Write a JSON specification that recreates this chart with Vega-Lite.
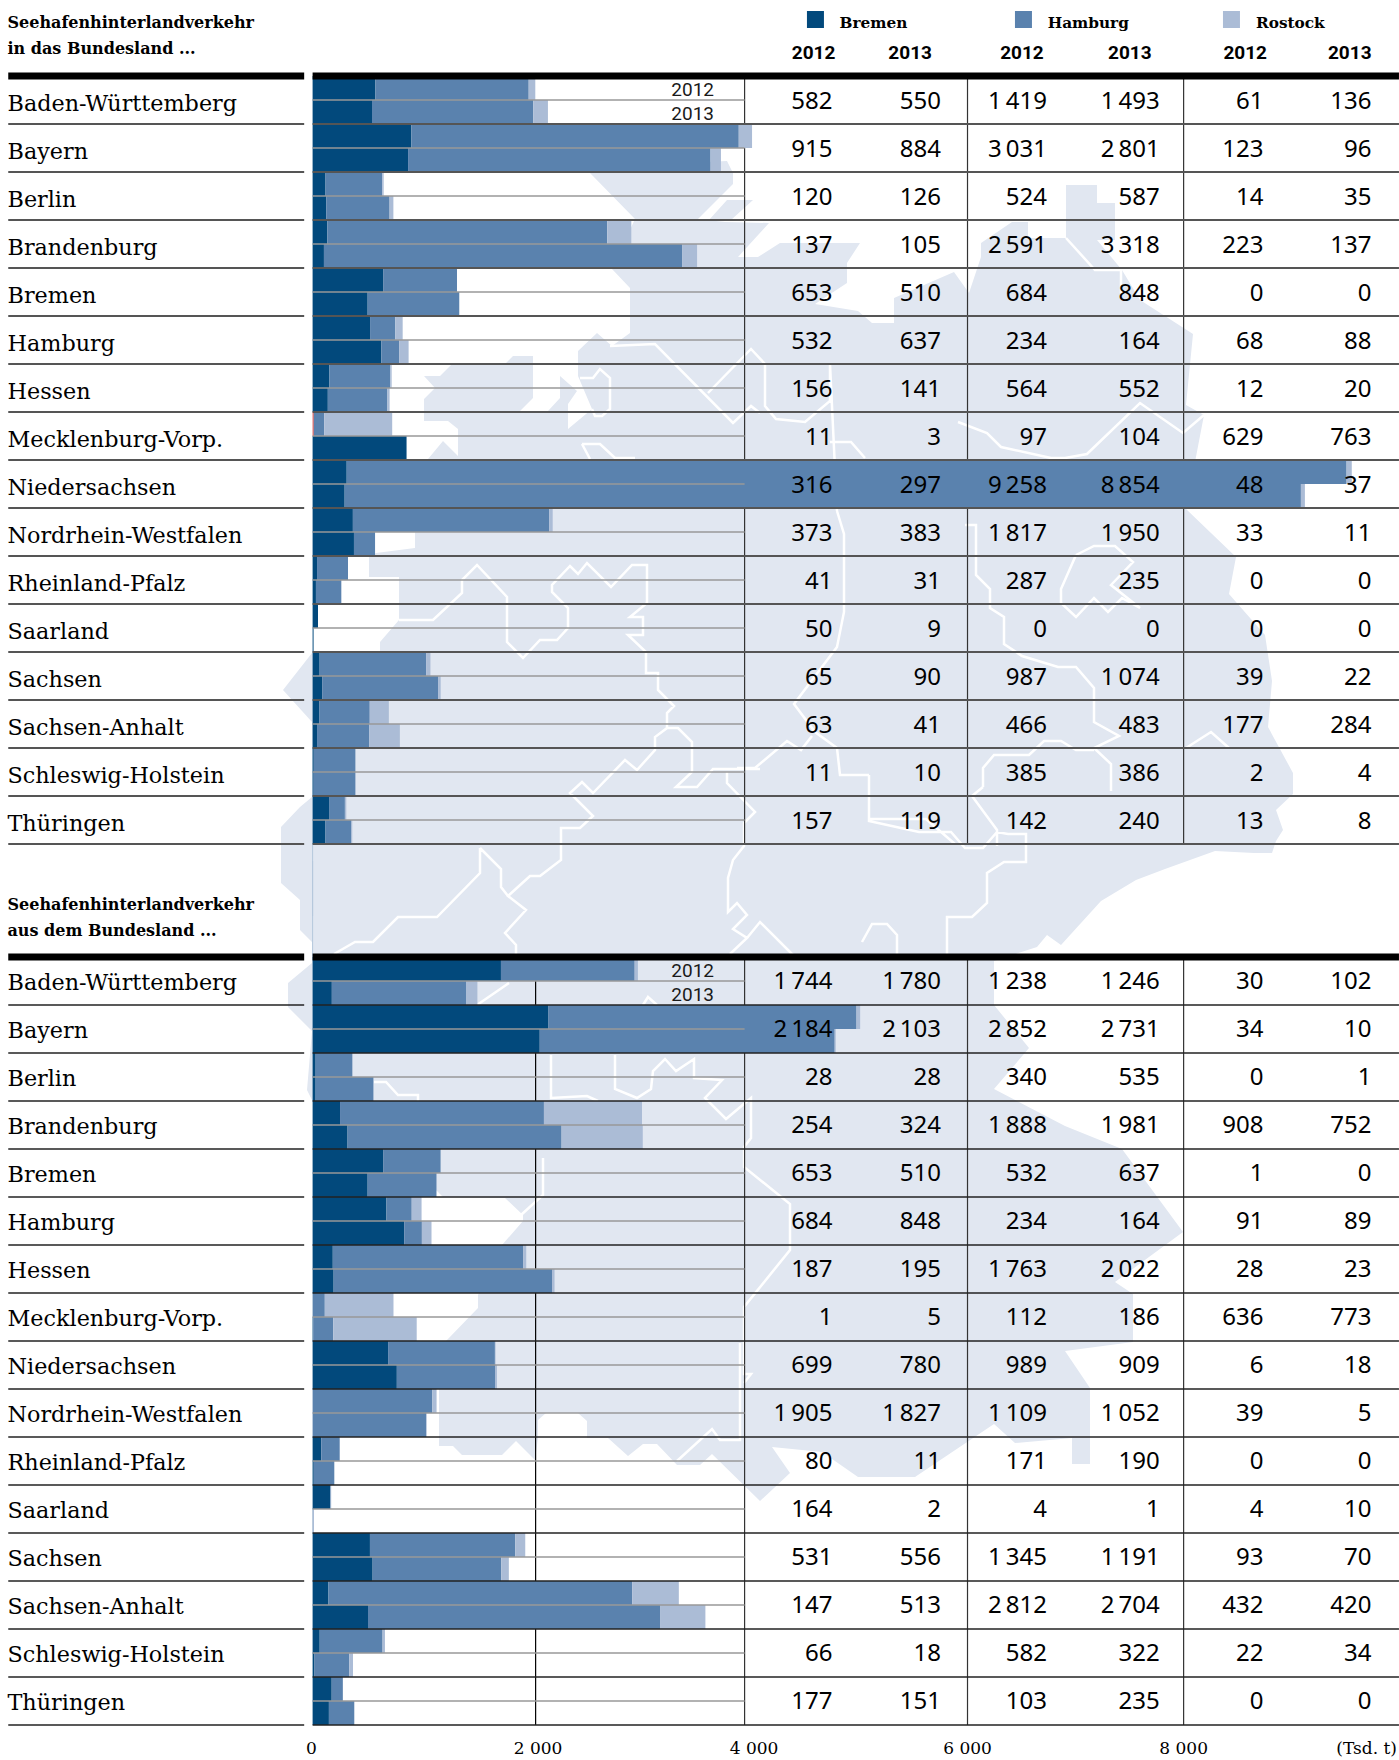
{"$schema":"https://vega.github.io/schema/vega-lite/v6.json","width":1399,"height":1760,"autosize":{"type":"none"},"padding":0,"background":"white",
"config":{"view":{"stroke":null},"axis":{"disable":true},"legend":{"disable":true},"locale":{"number":{"decimal":",","thousands":"\u2009","grouping":[3],"currency":["","€"]}},
"style":{"num":{"font":"Noto Sans","fontSize":24,"align":"right","baseline":"middle","fill":"#1a1a1a","dy":1.5},"num2":{"font":"Noto Sans","fontSize":24,"align":"right","baseline":"middle","fill":"#1a1a1a","dy":0.5},"lab":{"font":"DejaVu Serif","fontSize":22.3,"align":"left","baseline":"alphabetic","fill":"#1a1a1a"},"hd":{"font":"DejaVu Serif","fontSize":16,"fontWeight":"bold","align":"left","baseline":"middle","fill":"#1a1a1a"},"lg":{"font":"DejaVu Serif","fontSize":15.3,"fontWeight":"bold","align":"left","baseline":"middle","fill":"#1a1a1a"},"yr":{"font":"Roboto","fontSize":19,"align":"right","baseline":"middle","fill":"#1a1a1a","fontWeight":"bold"},"ax":{"font":"DejaVu Serif","fontSize":17,"align":"center","baseline":"middle","fill":"#1a1a1a"}}},
"data":{"values":[{"o":1}]},
"datasets":{
"st":[{"s":"Baden-Württemberg"},{"s":"Bayern"},{"s":"Berlin"},{"s":"Brandenburg"},{"s":"Bremen"},{"s":"Hamburg"},{"s":"Hessen"},{"s":"Mecklenburg-Vorp."},{"s":"Niedersachsen"},{"s":"Nordrhein-Westfalen"},{"s":"Rheinland-Pfalz"},{"s":"Saarland"},{"s":"Sachsen"},{"s":"Sachsen-Anhalt"},{"s":"Schleswig-Holstein"},{"s":"Thüringen"}],
"t":[
{"d":"in","s":"Baden-Württemberg","b12":582,"b13":550,"h12":1419,"h13":1493,"r12":61,"r13":136},
{"d":"in","s":"Bayern","b12":915,"b13":884,"h12":3031,"h13":2801,"r12":123,"r13":96},
{"d":"in","s":"Berlin","b12":120,"b13":126,"h12":524,"h13":587,"r12":14,"r13":35},
{"d":"in","s":"Brandenburg","b12":137,"b13":105,"h12":2591,"h13":3318,"r12":223,"r13":137},
{"d":"in","s":"Bremen","b12":653,"b13":510,"h12":684,"h13":848,"r12":0,"r13":0},
{"d":"in","s":"Hamburg","b12":532,"b13":637,"h12":234,"h13":164,"r12":68,"r13":88},
{"d":"in","s":"Hessen","b12":156,"b13":141,"h12":564,"h13":552,"r12":12,"r13":20},
{"d":"in","s":"Mecklenburg-Vorp.","b12":11,"b13":3,"h12":97,"h13":104,"r12":629,"r13":763},
{"d":"in","s":"Niedersachsen","b12":316,"b13":297,"h12":9258,"h13":8854,"r12":48,"r13":37},
{"d":"in","s":"Nordrhein-Westfalen","b12":373,"b13":383,"h12":1817,"h13":1950,"r12":33,"r13":11},
{"d":"in","s":"Rheinland-Pfalz","b12":41,"b13":31,"h12":287,"h13":235,"r12":0,"r13":0},
{"d":"in","s":"Saarland","b12":50,"b13":9,"h12":0,"h13":0,"r12":0,"r13":0},
{"d":"in","s":"Sachsen","b12":65,"b13":90,"h12":987,"h13":1074,"r12":39,"r13":22},
{"d":"in","s":"Sachsen-Anhalt","b12":63,"b13":41,"h12":466,"h13":483,"r12":177,"r13":284},
{"d":"in","s":"Schleswig-Holstein","b12":11,"b13":10,"h12":385,"h13":386,"r12":2,"r13":4},
{"d":"in","s":"Thüringen","b12":157,"b13":119,"h12":142,"h13":240,"r12":13,"r13":8},
{"d":"out","s":"Baden-Württemberg","b12":1744,"b13":1780,"h12":1238,"h13":1246,"r12":30,"r13":102},
{"d":"out","s":"Bayern","b12":2184,"b13":2103,"h12":2852,"h13":2731,"r12":34,"r13":10},
{"d":"out","s":"Berlin","b12":28,"b13":28,"h12":340,"h13":535,"r12":0,"r13":1},
{"d":"out","s":"Brandenburg","b12":254,"b13":324,"h12":1888,"h13":1981,"r12":908,"r13":752},
{"d":"out","s":"Bremen","b12":653,"b13":510,"h12":532,"h13":637,"r12":1,"r13":0},
{"d":"out","s":"Hamburg","b12":684,"b13":848,"h12":234,"h13":164,"r12":91,"r13":89},
{"d":"out","s":"Hessen","b12":187,"b13":195,"h12":1763,"h13":2022,"r12":28,"r13":23},
{"d":"out","s":"Mecklenburg-Vorp.","b12":1,"b13":5,"h12":112,"h13":186,"r12":636,"r13":773},
{"d":"out","s":"Niedersachsen","b12":699,"b13":780,"h12":989,"h13":909,"r12":6,"r13":18},
{"d":"out","s":"Nordrhein-Westfalen","b12":1905,"b13":1827,"h12":1109,"h13":1052,"r12":39,"r13":5},
{"d":"out","s":"Rheinland-Pfalz","b12":80,"b13":11,"h12":171,"h13":190,"r12":0,"r13":0},
{"d":"out","s":"Saarland","b12":164,"b13":2,"h12":4,"h13":1,"r12":4,"r13":10},
{"d":"out","s":"Sachsen","b12":531,"b13":556,"h12":1345,"h13":1191,"r12":93,"r13":70},
{"d":"out","s":"Sachsen-Anhalt","b12":147,"b13":513,"h12":2812,"h13":2704,"r12":432,"r13":420},
{"d":"out","s":"Schleswig-Holstein","b12":66,"b13":18,"h12":582,"h13":322,"r12":22,"r13":34},
{"d":"out","s":"Thüringen","b12":177,"b13":151,"h12":103,"h13":235,"r12":0,"r13":0}],
"bars":[
{"d":"in","s":"Baden-Württemberg","y":2012,"B":582,"H":1419,"R":61},{"d":"in","s":"Baden-Württemberg","y":2013,"B":550,"H":1493,"R":136},
{"d":"in","s":"Bayern","y":2012,"B":915,"H":3031,"R":123},{"d":"in","s":"Bayern","y":2013,"B":884,"H":2801,"R":96},
{"d":"in","s":"Berlin","y":2012,"B":120,"H":524,"R":14},{"d":"in","s":"Berlin","y":2013,"B":126,"H":587,"R":35},
{"d":"in","s":"Brandenburg","y":2012,"B":137,"H":2591,"R":223},{"d":"in","s":"Brandenburg","y":2013,"B":105,"H":3318,"R":137},
{"d":"in","s":"Bremen","y":2012,"B":653,"H":684,"R":0},{"d":"in","s":"Bremen","y":2013,"B":510,"H":848,"R":0},
{"d":"in","s":"Hamburg","y":2012,"B":532,"H":234,"R":68},{"d":"in","s":"Hamburg","y":2013,"B":637,"H":164,"R":88},
{"d":"in","s":"Hessen","y":2012,"B":156,"H":564,"R":12},{"d":"in","s":"Hessen","y":2013,"B":141,"H":552,"R":20},
{"d":"in","s":"Mecklenburg-Vorp.","y":2012,"A":11,"B":0,"H":97,"R":629},{"d":"in","s":"Mecklenburg-Vorp.","y":2013,"B":870,"H":0,"R":0},
{"d":"in","s":"Niedersachsen","y":2012,"B":316,"H":9258,"R":48},{"d":"in","s":"Niedersachsen","y":2013,"B":297,"H":8854,"R":37},
{"d":"in","s":"Nordrhein-Westfalen","y":2012,"B":373,"H":1817,"R":33},{"d":"in","s":"Nordrhein-Westfalen","y":2013,"B":383,"H":195,"R":1},
{"d":"in","s":"Rheinland-Pfalz","y":2012,"B":41,"H":287,"R":0},{"d":"in","s":"Rheinland-Pfalz","y":2013,"B":31,"H":235,"R":0},
{"d":"in","s":"Saarland","y":2012,"B":50,"H":0,"R":0},{"d":"in","s":"Saarland","y":2013,"B":9,"H":0,"R":0},
{"d":"in","s":"Sachsen","y":2012,"B":65,"H":987,"R":39},{"d":"in","s":"Sachsen","y":2013,"B":90,"H":1074,"R":22},
{"d":"in","s":"Sachsen-Anhalt","y":2012,"B":63,"H":466,"R":177},{"d":"in","s":"Sachsen-Anhalt","y":2013,"B":41,"H":483,"R":284},
{"d":"in","s":"Schleswig-Holstein","y":2012,"B":11,"H":385,"R":2},{"d":"in","s":"Schleswig-Holstein","y":2013,"B":10,"H":386,"R":4},
{"d":"in","s":"Thüringen","y":2012,"B":157,"H":142,"R":13},{"d":"in","s":"Thüringen","y":2013,"B":119,"H":240,"R":8},
{"d":"out","s":"Baden-Württemberg","y":2012,"B":1744,"H":1238,"R":30},{"d":"out","s":"Baden-Württemberg","y":2013,"B":178,"H":1246,"R":102},
{"d":"out","s":"Bayern","y":2012,"B":2184,"H":2852,"R":34},{"d":"out","s":"Bayern","y":2013,"B":2103,"H":2731,"R":10},
{"d":"out","s":"Berlin","y":2012,"B":28,"H":340,"R":0},{"d":"out","s":"Berlin","y":2013,"B":28,"H":535,"R":1},
{"d":"out","s":"Brandenburg","y":2012,"B":254,"H":1888,"R":908},{"d":"out","s":"Brandenburg","y":2013,"B":324,"H":1981,"R":752},
{"d":"out","s":"Bremen","y":2012,"B":653,"H":532,"R":1},{"d":"out","s":"Bremen","y":2013,"B":510,"H":637,"R":0},
{"d":"out","s":"Hamburg","y":2012,"B":684,"H":234,"R":91},{"d":"out","s":"Hamburg","y":2013,"B":848,"H":164,"R":89},
{"d":"out","s":"Hessen","y":2012,"B":187,"H":1763,"R":28},{"d":"out","s":"Hessen","y":2013,"B":195,"H":2022,"R":23},
{"d":"out","s":"Mecklenburg-Vorp.","y":2012,"B":1,"H":112,"R":636},{"d":"out","s":"Mecklenburg-Vorp.","y":2013,"B":5,"H":186,"R":773},
{"d":"out","s":"Niedersachsen","y":2012,"B":699,"H":989,"R":6},{"d":"out","s":"Niedersachsen","y":2013,"B":780,"H":909,"R":18},
{"d":"out","s":"Nordrhein-Westfalen","y":2012,"B":0,"H":1109,"R":39},{"d":"out","s":"Nordrhein-Westfalen","y":2013,"B":0,"H":1052,"R":5},
{"d":"out","s":"Rheinland-Pfalz","y":2012,"B":80,"H":171,"R":0},{"d":"out","s":"Rheinland-Pfalz","y":2013,"B":11,"H":190,"R":0},
{"d":"out","s":"Saarland","y":2012,"B":164,"H":4,"R":4},{"d":"out","s":"Saarland","y":2013,"B":2,"H":1,"R":10},
{"d":"out","s":"Sachsen","y":2012,"B":531,"H":1345,"R":93},{"d":"out","s":"Sachsen","y":2013,"B":556,"H":1191,"R":70},
{"d":"out","s":"Sachsen-Anhalt","y":2012,"B":147,"H":2812,"R":432},{"d":"out","s":"Sachsen-Anhalt","y":2013,"B":513,"H":2704,"R":420},
{"d":"out","s":"Schleswig-Holstein","y":2012,"B":66,"H":582,"R":22},{"d":"out","s":"Schleswig-Holstein","y":2013,"B":18,"H":322,"R":34},
{"d":"out","s":"Thüringen","y":2012,"B":177,"H":103,"R":0},{"d":"out","s":"Thüringen","y":2013,"B":151,"H":235,"R":0}],
"map":[{"type":"Feature","geometry":{"type":"MultiPolygon","coordinates":[[[[727,161],[733,173],[733,184],[698,219],[725,222],[769,223],[738,257],[758,257],[780,243],[860,243],[847,263],[847,283],[815,304],[858,311],[872,323],[894,323],[894,298],[954,272],[969,293],[981,257],[981,243],[1012,222],[1028,222],[1028,238],[1066,238],[1066,185],[1097,185],[1097,203],[1115,203],[1115,240],[1097,240],[1122,270],[1140,300],[1193,334],[1186,405],[1204,415],[1186,509],[1236,557],[1229,594],[1265,635],[1272,681],[1268,727],[1293,773],[1293,794],[1276,810],[1283,830],[1276,841],[1272,853],[1254,853],[1215,851],[1165,869],[1136,880],[1101,901],[1061,945],[1047,935],[1037,947],[994,961],[994,1005],[1029,1048],[994,1089],[1065,1126],[1122,1149],[1183,1232],[1115,1282],[1133,1294],[1133,1342],[1065,1351],[1090,1388],[1090,1464],[1072,1464],[1072,1438],[1015,1443],[994,1424],[915,1477],[858,1477],[822,1452],[772,1447],[790,1473],[760,1501],[712,1454],[700,1465],[677,1465],[657,1444],[643,1444],[628,1456],[608,1438],[587,1438],[587,1421],[578,1413],[546,1413],[538,1420],[538,1438],[535,1460],[516,1441],[502,1455],[462,1455],[453,1446],[439,1446],[439,1345],[446,1341],[478,1308],[478,1295],[502,1245],[523,1221],[523,1215],[505,1198],[443,1197],[437,1191],[312,1100],[307,1090],[312,1031],[288,1007],[288,983],[312,963],[312,942],[300,930],[300,900],[281,883],[281,827],[300,807],[312,797],[312,722],[283,690],[312,653],[380,652],[380,642],[399,620],[399,577],[369,577],[369,557],[376,553],[415,548],[415,533],[428,459],[443,441],[458,456],[458,429],[448,421],[424,421],[424,399],[435,388],[424,376],[440,376],[452,364],[505,364],[513,356],[533,356],[533,398],[520,411],[548,411],[560,398],[560,376],[577,391],[568,404],[568,429],[592,409],[578,376],[578,351],[597,333],[612,346],[630,333],[630,288],[612,269],[635,219],[590,173],[640,165],[727,161]]],[[[727,200],[753,200],[731,220],[709,220],[727,200]]]]}}],
"borders":[{"type":"Feature","geometry":{"type":"MultiLineString","coordinates":[
[[399,620],[433,620],[462,593],[462,580],[477,565],[507,597],[507,642],[523,658],[540,640],[557,640],[568,628],[568,608],[552,592],[552,585],[570,566],[578,574],[587,563],[611,587],[632,565],[647,565],[647,603],[630,617],[643,617],[643,635],[628,635],[646,652],[646,673],[658,673],[658,690],[674,706],[667,713],[667,728],[655,737],[655,750],[637,770],[625,760],[593,793],[582,782],[570,793],[593,816],[580,828],[561,828],[561,860],[540,876],[530,876],[508,896],[526,910],[505,933],[516,945],[516,954]],
[[667,728],[678,728],[692,742],[692,772],[676,787],[697,787],[713,769],[760,769]],
[[727,772],[727,783],[755,812],[744,823],[744,846],[733,860],[728,878],[728,912],[737,903],[747,915],[733,929],[747,938],[730,954]],
[[747,938],[760,922],[794,956]],
[[480,848],[480,873],[437,917],[398,917],[373,942],[355,942],[334,954]],
[[480,848],[501,869],[501,887],[508,896]],
[[869,775],[869,821],[919,832],[951,832],[965,848],[983,848],[997,832],[1008,834],[1026,834],[1026,862],[1004,862],[987,873],[987,903],[972,917],[947,917],[947,954]],
[[862,942],[872,924],[887,924],[897,935],[897,954]],
[[551,1055],[551,1098],[587,1096],[598,1101]],
[[615,1055],[615,1089],[637,1098],[651,1089],[653,1071],[665,1059],[676,1071],[694,1059],[694,1078],[722,1080],[705,1098],[726,1119],[751,1098],[751,1138],[744,1147],[744,1167],[790,1204],[790,1250],[744,1307],[744,1374],[751,1374],[744,1383]],
[[543,1158],[543,1195],[521,1215]],
[[374,1082],[386,1082],[398,1095],[418,1095],[418,1101]],
[[477,1005],[509,983]],
[[643,1005],[648,997],[657,1005]],
[[677,1461],[712,1429],[720,1440],[740,1440],[740,1343]],
[[610,346],[655,344],[733,423],[751,406],[760,413]],
[[708,393],[751,349],[765,364],[765,406],[776,419],[805,422],[830,401],[830,364],[837,511]],
[[580,378],[593,378],[600,369],[610,378],[610,409],[602,416],[595,416],[592,409]],
[[582,444],[600,444],[615,458],[635,458]],[[582,444],[590,459]],
[[830,442],[851,442],[865,458]],
[[958,422],[987,433],[1001,447],[1051,458],[1065,458],[1087,454],[1140,403],[1183,433],[1204,415]],
[[837,511],[844,534],[844,612],[837,647],[794,704],[815,732],[837,748],[840,775],[869,775]],
[[869,819],[926,819],[955,844]],
[[737,768],[755,768],[787,741],[801,750],[812,736]],
[[965,525],[976,525],[976,575],[990,589],[990,608],[1004,617],[1004,644],[1022,656],[1058,667],[1076,667],[1094,688],[1094,722],[1119,736],[1094,748],[1111,764],[1111,791]],
[[1076,555],[1094,546],[1115,546],[1133,562],[1111,585],[1140,608],[1122,598],[1108,612],[1094,598],[1076,617],[1061,603],[1061,589],[1076,555]],
[[1186,748],[1211,732],[1229,748]],
[[983,787],[983,768],[994,755],[1029,755],[1044,741],[1061,741],[1076,750],[1094,750]],
[[983,787],[972,796],[997,830],[997,846]],
[[1066,238],[1095,270],[1121,270],[1121,293]]
]}}]
},
"resolve":{"scale":{"y":"independent"}},
"layer":[
{"data":{"name":"map"},"projection":{"type":"identity","scale":1,"translate":[0,0]},"mark":{"type":"geoshape","fill":"#e1e7f1","stroke":null}},
{"data":{"name":"borders"},"projection":{"type":"identity","scale":1,"translate":[0,0]},"mark":{"type":"geoshape","filled":false,"fill":null,"stroke":"white","strokeWidth":2.5}},
{"layer":[
{"data":{"values":[{"x":4000},{"x":6064},{"x":8065}]},"mark":{"type":"rule","stroke":"#333","strokeWidth":1.2,"y2Offset":-24},"encoding":{"x":{"field":"x","type":"quantitative","scale":{"domain":[0,10000],"range":[312.6,1392.6],"nice":false,"zero":false}},"y":{"datum":"Baden-Württemberg","type":"nominal","bandPosition":0,"scale":{"type":"band","domain":["h0","h1","Baden-Württemberg","Bayern","Berlin","Brandenburg","Bremen","Hamburg","Hessen","Mecklenburg-Vorp.","Niedersachsen","Nordrhein-Westfalen","Rheinland-Pfalz","Saarland","Sachsen","Sachsen-Anhalt","Schleswig-Holstein","Thüringen","z1","z2"],"range":[-20,940],"paddingInner":0,"paddingOuter":0}},"y2":{"datum":"z1"}}},
{"mark":{"type":"rule","stroke":"#b5c8dc","strokeWidth":1},"encoding":{"x":{"datum":0},"y":{"datum":"z1","type":"nominal","bandPosition":0},"y2":{"datum":"z2"}}},
{"data":{"name":"bars"},"transform":[{"filter":"datum.d==='in'"},{"fold":["A","B","H","R"],"as":["p","v"]},{"filter":"datum.v>0"}],"mark":{"type":"bar"},"encoding":{"x":{"field":"v","type":"quantitative","stack":"zero"},"y":{"field":"s","type":"nominal"},"yOffset":{"field":"y","type":"nominal","scale":{"domain":[2012,2013],"paddingInner":0,"paddingOuter":0}},"color":{"field":"p","type":"nominal","scale":{"domain":["A","B","H","R"],"range":["#d9534f","#02497c","#5a82ae","#abbcd6"]}},"order":{"field":"p","sort":"ascending"}}},
{"data":{"name":"st"},"mark":{"type":"rule","stroke":"#999","strokeWidth":1.5},"encoding":{"x":{"datum":0},"x2":{"datum":4000},"y":{"field":"s","type":"nominal"}}},
{"data":{"name":"st"},"mark":{"type":"rule","stroke":"#555","strokeWidth":2},"encoding":{"x":{"datum":0},"x2":{"datum":10059},"y":{"field":"s","type":"nominal","bandPosition":1}}},
{"data":{"name":"st"},"mark":{"type":"rule","stroke":"#555","strokeWidth":2},"encoding":{"x":{"datum":-2818},"x2":{"datum":-78},"y":{"field":"s","type":"nominal","bandPosition":1}}},
{"mark":{"type":"rule","stroke":"black","strokeWidth":7},"encoding":{"x":{"datum":-2818},"x2":{"datum":-78},"y":{"datum":"h1","type":"nominal","bandPosition":1}}},
{"mark":{"type":"rule","stroke":"black","strokeWidth":7},"encoding":{"x":{"datum":0},"x2":{"datum":10059},"y":{"datum":"h1","type":"nominal","bandPosition":1}}},
{"data":{"name":"st"},"mark":{"type":"text","style":"lab","dy":10.5},"encoding":{"x":{"datum":-2825},"y":{"field":"s","type":"nominal"},"text":{"field":"s"}}},
{"data":{"values":[{"s":"Baden-Württemberg","y":2012},{"s":"Baden-Württemberg","y":2013}]},"mark":{"type":"text","font":"Roboto","fontSize":19,"align":"right","baseline":"middle","dy":2,"fill":"#1a1a1a"},"encoding":{"x":{"datum":3717},"y":{"field":"s","type":"nominal"},"yOffset":{"field":"y","type":"nominal"},"text":{"field":"y","type":"nominal"}}},
{"data":{"name":"t"},"transform":[{"filter":"datum.d==='in'"}],"mark":{"type":"text","style":"num"},"encoding":{"x":{"datum":4813},"y":{"field":"s","type":"nominal"},"text":{"field":"b12","type":"quantitative","format":",d"}}},
{"data":{"name":"t"},"transform":[{"filter":"datum.d==='in'"}],"mark":{"type":"text","style":"num"},"encoding":{"x":{"datum":5819},"y":{"field":"s","type":"nominal"},"text":{"field":"b13","type":"quantitative","format":",d"}}},
{"data":{"name":"t"},"transform":[{"filter":"datum.d==='in'"}],"mark":{"type":"text","style":"num"},"encoding":{"x":{"datum":6799},"y":{"field":"s","type":"nominal"},"text":{"field":"h12","type":"quantitative","format":",d"}}},
{"data":{"name":"t"},"transform":[{"filter":"datum.d==='in'"}],"mark":{"type":"text","style":"num"},"encoding":{"x":{"datum":7843},"y":{"field":"s","type":"nominal"},"text":{"field":"h13","type":"quantitative","format":",d"}}},
{"data":{"name":"t"},"transform":[{"filter":"datum.d==='in'"}],"mark":{"type":"text","style":"num"},"encoding":{"x":{"datum":8805},"y":{"field":"s","type":"nominal"},"text":{"field":"r12","type":"quantitative","format":",d"}}},
{"data":{"name":"t"},"transform":[{"filter":"datum.d==='in'"}],"mark":{"type":"text","style":"num"},"encoding":{"x":{"datum":9804},"y":{"field":"s","type":"nominal"},"text":{"field":"r13","type":"quantitative","format":",d"}}},
{"mark":{"type":"text","style":"hd","text":"Seehafenhinterlandverkehr","dy":-5.5},"encoding":{"x":{"datum":-2825},"y":{"datum":"h0","type":"nominal","bandPosition":1}}},
{"mark":{"type":"text","style":"hd","text":"in das Bundesland ...","dy":20.5},"encoding":{"x":{"datum":-2825},"y":{"datum":"h0","type":"nominal","bandPosition":1}}},
{"mark":{"type":"point","shape":"square","filled":true,"size":289,"color":"#02497c","opacity":1,"yOffset":-8.5},"encoding":{"x":{"datum":4656},"y":{"datum":"h0","type":"nominal","bandPosition":1}}},
{"mark":{"type":"point","shape":"square","filled":true,"size":289,"color":"#5a82ae","opacity":1,"yOffset":-8.5},"encoding":{"x":{"datum":6582},"y":{"datum":"h0","type":"nominal","bandPosition":1}}},
{"mark":{"type":"point","shape":"square","filled":true,"size":289,"color":"#abbcd6","opacity":1,"yOffset":-8.5},"encoding":{"x":{"datum":8508},"y":{"datum":"h0","type":"nominal","bandPosition":1}}},
{"mark":{"type":"text","style":"lg","text":"Bremen","dy":-5.5},"encoding":{"x":{"datum":4879},"y":{"datum":"h0","type":"nominal","bandPosition":1}}},
{"mark":{"type":"text","style":"lg","text":"Hamburg","dy":-5.5},"encoding":{"x":{"datum":6807},"y":{"datum":"h0","type":"nominal","bandPosition":1}}},
{"mark":{"type":"text","style":"lg","text":"Rostock","dy":-5.5},"encoding":{"x":{"datum":8735},"y":{"datum":"h0","type":"nominal","bandPosition":1}}},
{"mark":{"type":"text","style":"yr","text":"2012","dy":1},"encoding":{"x":{"datum":4841},"y":{"datum":"h1","type":"nominal"}}},
{"mark":{"type":"text","style":"yr","text":"2013","dy":1},"encoding":{"x":{"datum":5735},"y":{"datum":"h1","type":"nominal"}}},
{"mark":{"type":"text","style":"yr","text":"2012","dy":1},"encoding":{"x":{"datum":6770},"y":{"datum":"h1","type":"nominal"}}},
{"mark":{"type":"text","style":"yr","text":"2013","dy":1},"encoding":{"x":{"datum":7769},"y":{"datum":"h1","type":"nominal"}}},
{"mark":{"type":"text","style":"yr","text":"2012","dy":1},"encoding":{"x":{"datum":8837},"y":{"datum":"h1","type":"nominal"}}},
{"mark":{"type":"text","style":"yr","text":"2013","dy":1},"encoding":{"x":{"datum":9805},"y":{"datum":"h1","type":"nominal"}}}
]},
{"layer":[
{"data":{"values":[{"x":4000},{"x":6064},{"x":8065}]},"mark":{"type":"rule","stroke":"#333","strokeWidth":1.2,"y2Offset":-24},"encoding":{"x":{"field":"x","type":"quantitative"},"y":{"datum":"Baden-Württemberg","type":"nominal","bandPosition":0,"scale":{"type":"band","domain":["g0","g1","Baden-Württemberg","Bayern","Berlin","Brandenburg","Bremen","Hamburg","Hessen","Mecklenburg-Vorp.","Niedersachsen","Nordrhein-Westfalen","Rheinland-Pfalz","Saarland","Sachsen","Sachsen-Anhalt","Schleswig-Holstein","Thüringen","ax"],"range":[861,1773],"paddingInner":0,"paddingOuter":0}},"y2":{"datum":"ax"}}},
{"mark":{"type":"rule","stroke":"black","strokeWidth":1.2,"y2Offset":-24},"encoding":{"x":{"datum":2065},"y":{"datum":"Baden-Württemberg","type":"nominal","bandPosition":0.5},"y2":{"datum":"ax"}}},
{"mark":{"type":"rule","stroke":"#b5c8dc","strokeWidth":1,"y2Offset":-24},"encoding":{"x":{"datum":0},"y":{"datum":"g0","type":"nominal","bandPosition":0},"y2":{"datum":"Baden-Württemberg"}}},
{"data":{"name":"bars"},"transform":[{"filter":"datum.d==='out'"},{"fold":["B","H","R"],"as":["p","v"]},{"filter":"datum.v>0"}],"mark":{"type":"bar"},"encoding":{"x":{"field":"v","type":"quantitative","stack":"zero"},"y":{"field":"s","type":"nominal"},"yOffset":{"field":"y","type":"nominal"},"color":{"field":"p","type":"nominal"},"order":{"field":"p","sort":"ascending"}}},
{"data":{"name":"st"},"mark":{"type":"rule","stroke":"#999","strokeWidth":1.5},"encoding":{"x":{"datum":0},"x2":{"datum":4000},"y":{"field":"s","type":"nominal"}}},
{"data":{"name":"st"},"mark":{"type":"rule","stroke":"#222","strokeWidth":1.5},"encoding":{"x":{"datum":0},"x2":{"datum":10059},"y":{"field":"s","type":"nominal","bandPosition":1}}},
{"data":{"name":"st"},"mark":{"type":"rule","stroke":"#222","strokeWidth":1.5},"encoding":{"x":{"datum":-2818},"x2":{"datum":-78},"y":{"field":"s","type":"nominal","bandPosition":1}}},
{"mark":{"type":"rule","stroke":"black","strokeWidth":7},"encoding":{"x":{"datum":-2818},"x2":{"datum":-78},"y":{"datum":"g1","type":"nominal","bandPosition":1}}},
{"mark":{"type":"rule","stroke":"black","strokeWidth":7},"encoding":{"x":{"datum":0},"x2":{"datum":10059},"y":{"datum":"g1","type":"nominal","bandPosition":1}}},
{"data":{"name":"st"},"mark":{"type":"text","style":"lab","dy":8.5},"encoding":{"x":{"datum":-2825},"y":{"field":"s","type":"nominal"},"text":{"field":"s"}}},
{"data":{"values":[{"s":"Baden-Württemberg","y":2012},{"s":"Baden-Württemberg","y":2013}]},"mark":{"type":"text","font":"Roboto","fontSize":19,"align":"right","baseline":"middle","dy":2,"fill":"#1a1a1a"},"encoding":{"x":{"datum":3717},"y":{"field":"s","type":"nominal"},"yOffset":{"field":"y","type":"nominal"},"text":{"field":"y","type":"nominal"}}},
{"data":{"name":"t"},"transform":[{"filter":"datum.d==='out'"}],"mark":{"type":"text","style":"num2"},"encoding":{"x":{"datum":4813},"y":{"field":"s","type":"nominal"},"text":{"field":"b12","type":"quantitative","format":",d"}}},
{"data":{"name":"t"},"transform":[{"filter":"datum.d==='out'"}],"mark":{"type":"text","style":"num2"},"encoding":{"x":{"datum":5819},"y":{"field":"s","type":"nominal"},"text":{"field":"b13","type":"quantitative","format":",d"}}},
{"data":{"name":"t"},"transform":[{"filter":"datum.d==='out'"}],"mark":{"type":"text","style":"num2"},"encoding":{"x":{"datum":6799},"y":{"field":"s","type":"nominal"},"text":{"field":"h12","type":"quantitative","format":",d"}}},
{"data":{"name":"t"},"transform":[{"filter":"datum.d==='out'"}],"mark":{"type":"text","style":"num2"},"encoding":{"x":{"datum":7843},"y":{"field":"s","type":"nominal"},"text":{"field":"h13","type":"quantitative","format":",d"}}},
{"data":{"name":"t"},"transform":[{"filter":"datum.d==='out'"}],"mark":{"type":"text","style":"num2"},"encoding":{"x":{"datum":8805},"y":{"field":"s","type":"nominal"},"text":{"field":"r12","type":"quantitative","format":",d"}}},
{"data":{"name":"t"},"transform":[{"filter":"datum.d==='out'"}],"mark":{"type":"text","style":"num2"},"encoding":{"x":{"datum":9804},"y":{"field":"s","type":"nominal"},"text":{"field":"r13","type":"quantitative","format":",d"}}},
{"mark":{"type":"text","style":"hd","text":"Seehafenhinterlandverkehr","dy":-4.5},"encoding":{"x":{"datum":-2825},"y":{"datum":"g1","type":"nominal","bandPosition":0}}},
{"mark":{"type":"text","style":"hd","text":"aus dem Bundesland ...","dy":21.5},"encoding":{"x":{"datum":-2825},"y":{"datum":"g1","type":"nominal","bandPosition":0}}},
{"data":{"values":[{"t":"0","p":-10},{"t":"2 000","p":2087},{"t":"4 000","p":4087},{"t":"6 000","p":6064},{"t":"8 000","p":8065}]},"mark":{"type":"text","style":"ax"},"encoding":{"x":{"field":"p","type":"quantitative"},"y":{"datum":"ax","type":"nominal"},"text":{"field":"t"}}},
{"mark":{"type":"text","style":"ax","text":"(Tsd. t)","align":"right"},"encoding":{"x":{"datum":10040},"y":{"datum":"ax","type":"nominal"}}}
]}
]}
